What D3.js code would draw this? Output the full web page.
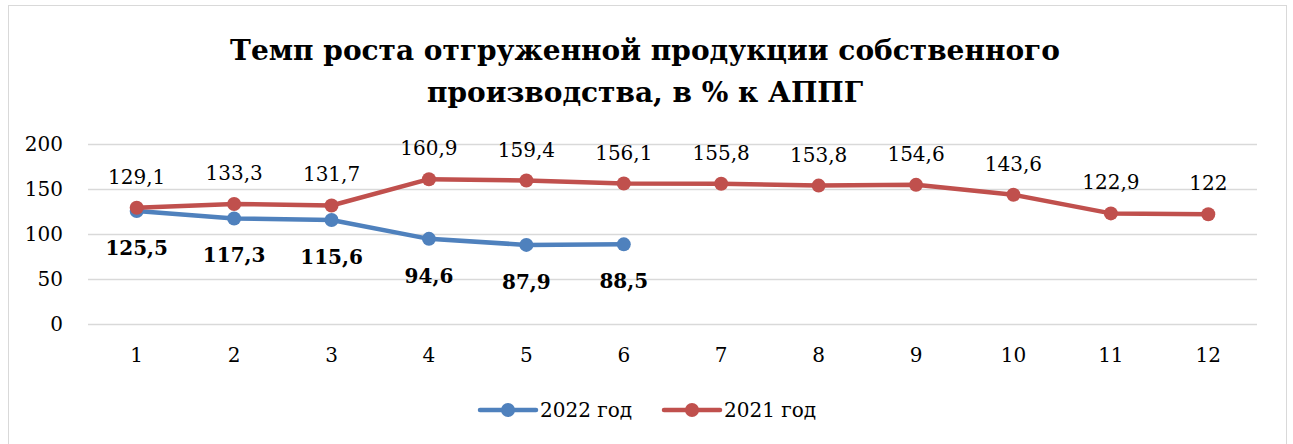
<!DOCTYPE html>
<html>
<head>
<meta charset="utf-8">
<script src="https://cdn.jsdelivr.net/npm/d3@7"></script>
<style>
  body { margin: 0; background: #fff; }
  text { font-family: "DejaVu Serif", "Liberation Serif", serif; fill: #000; }
</style>
</head>
<body>
<div id="chart"></div>
<script>
// chart data
const months = ["1", "2", "3", "4", "5", "6", "7", "8", "9", "10", "11", "12"];
const values2022 = [125.5, 117.3, 115.6, 94.6, 87.9, 88.5];
const values2021 = [129.1, 133.3, 131.7, 160.9, 159.4, 156.1, 155.8, 153.8, 154.6, 143.6, 122.9, 122];
const yTicks = [0, 50, 100, 150, 200];
const seriesNames = ["2022 год", "2021 год"];

const width = 1293;
const height = 444;
const margin = { top: 144, bottom: 120, left: 88, right: 36 };

const blue = "#4f81bd";
const red = "#c0504d";

const fmt = v => String(v).replace(".", ",");

const svg = d3.select("#chart")
  .append("svg")
  .attr("width", width)
  .attr("height", height);

// outer frame
svg.append("rect")
  .attr("x", 8.5).attr("y", 5.5)
  .attr("width", 1278).attr("height", 445)
  .attr("fill", "#fff")
  .attr("stroke", "#d9d9d9");

// title
const title = svg.append("text")
  .attr("text-anchor", "middle")
  .attr("font-weight", "bold")
  .attr("font-size", 28);
title.append("tspan").attr("x", 645).attr("y", 60).text("Темп роста отгруженной продукции собственного");
title.append("tspan").attr("x", 645).attr("y", 102).text("производства, в % к АППГ");

const x = d3.scaleBand()
  .domain(months)
  .range([margin.left, width - margin.right]);

const y = d3.scaleLinear()
  .domain([0, 200])
  .range([height - margin.bottom, margin.top]);

const cx = d => x(d) + x.bandwidth() / 2;

// grid
svg.append("g")
  .selectAll("line")
  .data(yTicks)
  .join("line")
    .attr("x1", margin.left)
    .attr("x2", width - margin.right)
    .attr("y1", d => Math.round(y(d)) + 0.5)
    .attr("y2", d => Math.round(y(d)) + 0.5)
    .attr("stroke", "#d9d9d9")
    .attr("stroke-width", 1.5);

// y labels
svg.append("g")
  .selectAll("text")
  .data(yTicks)
  .join("text")
    .attr("x", 63)
    .attr("y", d => y(d) + 7)
    .attr("text-anchor", "end")
    .attr("font-size", 20)
    .text(d => d);

// x labels
svg.append("g")
  .selectAll("text")
  .data(months)
  .join("text")
    .attr("x", d => cx(d))
    .attr("y", 362)
    .attr("text-anchor", "middle")
    .attr("font-size", 20)
    .text(d => d);

const line = d3.line()
  .x((d, i) => cx(months[i]))
  .y(d => y(d));

function drawSeries(vals, color) {
  svg.append("path")
    .datum(vals)
    .attr("d", line)
    .attr("fill", "none")
    .attr("stroke", color)
    .attr("stroke-width", 4.5)
    .attr("stroke-linejoin", "round");
  svg.append("g")
    .selectAll("circle")
    .data(vals)
    .join("circle")
      .attr("cx", (d, i) => cx(months[i]))
      .attr("cy", d => y(d))
      .attr("r", 7)
      .attr("fill", color);
}

drawSeries(values2022, blue);
drawSeries(values2021, red);

// labels 2021 (above)
svg.append("g")
  .selectAll("text")
  .data(values2021)
  .join("text")
    .attr("x", (d, i) => cx(months[i]))
    .attr("y", d => y(d) - 24)
    .attr("text-anchor", "middle")
    .attr("font-size", 20)
    .text(d => fmt(d));

// labels 2022 (below, bold)
svg.append("g")
  .selectAll("text")
  .data(values2022)
  .join("text")
    .attr("x", (d, i) => cx(months[i]))
    .attr("y", d => y(d) + 44)
    .attr("text-anchor", "middle")
    .attr("font-size", 20)
    .attr("font-weight", "bold")
    .text(d => fmt(d));

// legend
const legend = svg.append("g");
[[480, blue, seriesNames[0]], [664, red, seriesNames[1]]].forEach(([lx, color, name]) => {
  const g = legend.append("g").attr("transform", `translate(${lx},410)`);
  g.append("line").attr("x1", 0).attr("x2", 56).attr("stroke", color)
    .attr("stroke-width", 4.5).attr("stroke-linecap", "round");
  g.append("circle").attr("cx", 28).attr("r", 7).attr("fill", color);
  g.append("text").attr("x", 60).attr("y", 7).attr("font-size", 20).text(name);
});
</script>
</body>
</html>
